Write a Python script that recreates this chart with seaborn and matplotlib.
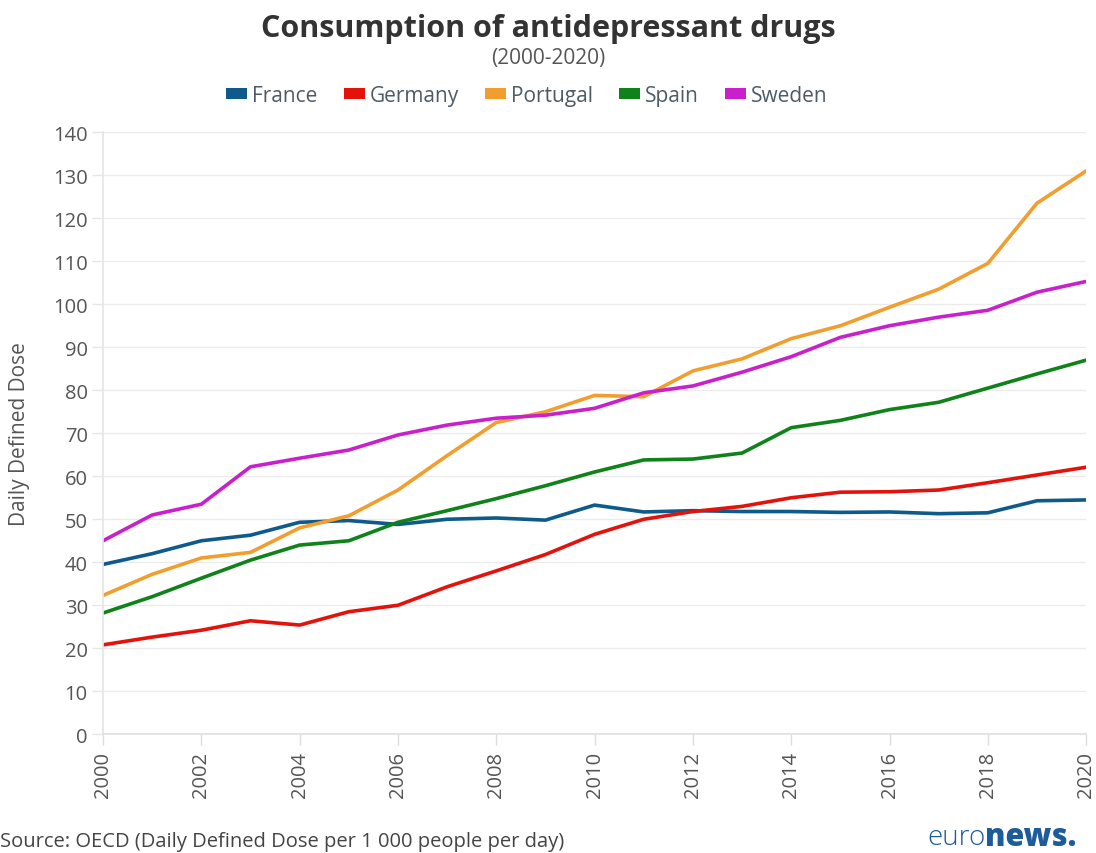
import matplotlib
matplotlib.use("Agg")
import matplotlib.pyplot as plt
from matplotlib.patches import Patch
import pandas as pd
import seaborn as sns


YEARS = list(range(2000, 2021))
COUNTRIES = ["France", "Germany", "Portugal", "Spain", "Sweden"]

FRANCE = [39.5, 42.0, 45.0, 46.3, 49.3, 49.7, 48.8, 50.0, 50.3, 49.8, 53.3,
          51.7, 52.0, 51.8, 51.8, 51.6, 51.7, 51.3, 51.5, 54.3, 54.5]
GERMANY = [20.8, 22.6, 24.2, 26.4, 25.4, 28.5, 30.0, 34.3, 38.0, 41.8, 46.5,
           50.0, 51.8, 53.0, 55.0, 56.3, 56.4, 56.8, 58.5, 60.3, 62.1]
PORTUGAL = [32.3, 37.2, 41.0, 42.3, 48.0, 50.8, 56.8, 64.8, 72.5, 75.0, 78.8,
            78.5, 84.5, 87.3, 92.0, 95.0, 99.3, 103.5, 109.5, 123.5, 131.0]
SPAIN = [28.2, 32.0, 36.3, 40.5, 44.0, 45.0, 49.3, 52.0, 54.8, 57.8, 61.0,
         63.8, 64.0, 65.4, 71.3, 73.0, 75.5, 77.2, 80.5, 83.8, 87.0]
SWEDEN = [45.0, 51.0, 53.5, 62.2, 64.2, 66.1, 69.6, 71.9, 73.5, 74.2, 75.8,
          79.4, 81.0, 84.2, 87.8, 92.3, 95.0, 97.0, 98.6, 102.8, 105.3]

X_TICKS = list(range(2000, 2021, 2))
Y_TICKS = list(range(0, 141, 10))

COLORS = ["#0e5a8a", "#e3120b", "#f29e2e", "#10821a", "#c91fcc"]

TEXT_GREY = "#555555"
LEGEND_TEXT = "#4c5b66"


def build_frame():
    rows = []
    for country, values in zip(COUNTRIES, [FRANCE, GERMANY, PORTUGAL, SPAIN, SWEDEN]):
        for year, value in zip(YEARS, values):
            rows.append({"year": year, "country": country, "dose": value})
    return pd.DataFrame(rows)


def main():
    sns.set_theme(style="white")
    plt.rcParams["font.family"] = ["Open Sans", "DejaVu Sans"]

    df = build_frame()
    fig = plt.figure(figsize=(10.96, 8.54), dpi=100)
    ax = fig.add_axes([0.094, 0.139, 0.897, 0.705])

    for y in Y_TICKS:
        ax.axhline(y, color="#ebebeb", lw=1.0, zorder=0)

    sns.lineplot(
        data=df, x="year", y="dose", hue="country",
        palette=dict(zip(COUNTRIES, COLORS)), linewidth=2.6,
        legend=False, ax=ax, solid_joinstyle="round", solid_capstyle="round",
    )

    ax.set_xlim(2000, 2020)
    ax.set_ylim(0, 140)
    ax.set_xticks(X_TICKS)
    ax.set_yticks(Y_TICKS)
    ax.set_xticklabels([str(t) for t in X_TICKS], rotation=90)
    ax.tick_params(axis="x", colors="#dddddd", labelcolor=TEXT_GREY, labelsize=14.5,
                   length=8, width=1, direction="out", bottom=True, pad=4)
    ax.tick_params(axis="y", colors="#e6e6e6", labelcolor=TEXT_GREY, labelsize=14.5,
                   length=8, width=1, direction="out", left=True, pad=3)
    for side in ["top", "right"]:
        ax.spines[side].set_visible(False)
    ax.spines["left"].set_color("#e6e6e6")
    ax.spines["bottom"].set_color("#e0e0e0")
    ax.set_xlabel("")
    ax.set_ylabel("Daily Defined Dose", fontsize=15, color=TEXT_GREY)
    ax.yaxis.set_label_coords(-0.074, 0.5)

    fig.text(0.5, 0.966, "Consumption of antidepressant drugs", ha="center", va="center",
             fontsize=22, fontweight="bold", color="#333333")
    fig.text(0.5, 0.932, "(2000-2020)", ha="center", va="center", fontsize=15, color=TEXT_GREY)

    handles = [Patch(facecolor=c, edgecolor="none", label=n) for n, c in zip(COUNTRIES, COLORS)]
    leg = fig.legend(handles=handles, loc="center", bbox_to_anchor=(0.481, 0.887), ncol=5,
                     frameon=False, fontsize=15, handlelength=1.0, handleheight=0.45,
                     handletextpad=0.25, columnspacing=1.25)
    for t in leg.get_texts():
        t.set_color(LEGEND_TEXT)

    fig.text(0.0, 0.014, "Source: OECD (Daily Defined Dose per 1 000 people per day)",
             ha="left", va="center", fontsize=14.5, color="#444444")
    fig.text(0.899, 0.019, "euro", ha="right", va="center", fontsize=20,
             color="#1d5c99", fontweight="light")
    fig.text(0.899, 0.019, "news.", ha="left", va="center", fontsize=22,
             color="#1d5c99", fontweight="heavy")

    fig.savefig("out.png", dpi=100, facecolor="white")
    plt.close(fig)


if __name__ == "__main__":
    main()
